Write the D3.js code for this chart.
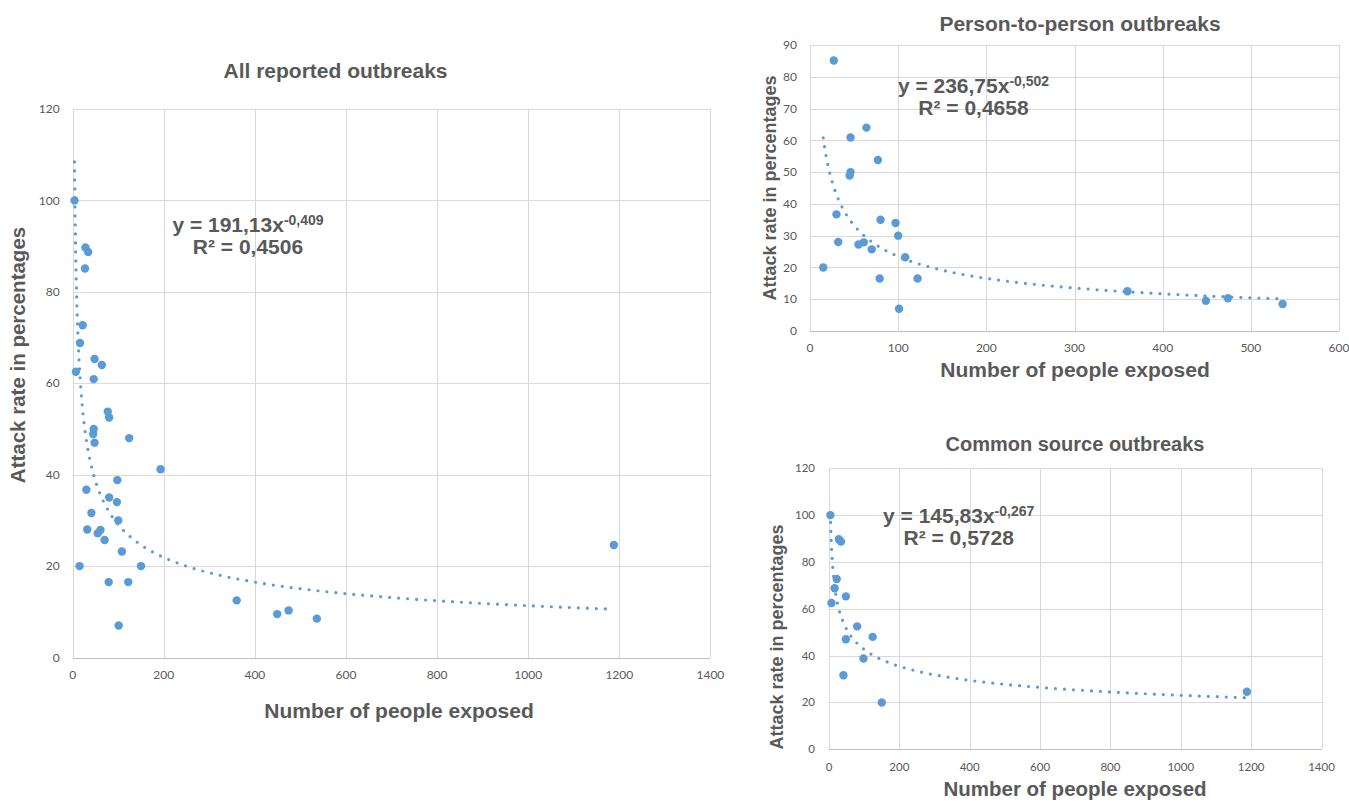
<!DOCTYPE html>
<html>
  <head>
    <meta charset="utf-8">
    <script src="https://d3js.org/d3.v7.min.js"></script>
    <style type="text/css">
      html, body {
        margin: 0;
        padding: 0;
        background: #ffffff;
      }
      svg {
        display: block;
      }
      .grid line {
        stroke: #d9d9d9;
        stroke-width: 1;
        shape-rendering: crispEdges;
      }
      .tick-label {
        font-family: Lato, "Open Sans", sans-serif;
        fill: #595959;
      }
      .bold {
        font-family: "Liberation Sans", Arial, sans-serif;
        font-weight: bold;
        fill: #595959;
      }
      .dot {
        fill: #5b9bd5;
      }
      .trend {
        fill: none;
        stroke: #5b9bd5;
        stroke-width: 3.2;
        stroke-linecap: round;
        stroke-dasharray: 0 9;
      }
    </style>
  </head>
  <body>
    <svg id="chart" width="1349" height="801"></svg>
    <script type="text/javascript">

    // person-to-person outbreaks
    var p2pExposed    = [27, 64, 46, 46, 45, 77, 30, 80, 97, 100, 32, 55, 61, 70, 108, 15, 79, 122, 101, 360, 449, 474, 536];
    var p2pAttackRate = [85.1, 64, 60.9, 50, 48.9, 53.8, 36.7, 35, 34, 30, 28, 27.2, 27.9, 25.7, 23.2, 20, 16.5, 16.5, 7, 12.5, 9.5, 10.3, 8.5];

    // common source outbreaks (bottom right panel)
    var commonExposed    = [4, 28, 34, 22, 16, 7, 48, 80, 48, 124, 98, 41, 150, 1188];
    var commonAttackRate = [100, 89.7, 88.7, 72.7, 68.8, 62.5, 65.3, 52.5, 47, 48, 38.8, 31.6, 20, 24.6];

    // outbreak only in the "all" panel
    var otherExposed    = [193];
    var otherAttackRate = [41.2];

    // power trendlines y = a * x^b, as printed on the chart
    var allTrend    = {a: 191.13, b: -0.409, eq: "y = 191,13x", exp: "-0,409", r2: "R² = 0,4506"};
    var p2pTrend    = {a: 236.75, b: -0.502, eq: "y = 236,75x", exp: "-0,502", r2: "R² = 0,4658"};
    var commonTrend = {a: 145.83, b: -0.267, eq: "y = 145,83x", exp: "-0,267", r2: "R² = 0,5728"};

    var yTicksAll    = [0, 20, 40, 60, 80, 100, 120];
    var xTicksAll    = [0, 200, 400, 600, 800, 1000, 1200, 1400];
    var yTicksP2p    = [0, 10, 20, 30, 40, 50, 60, 70, 80, 90];
    var xTicksP2p    = [0, 100, 200, 300, 400, 500, 600];

    function zip(xs, ys) {
        return xs.map(function (x, i) { return {x: x, y: ys[i]}; });
    }

    var allPoints = zip(p2pExposed.concat(commonExposed, otherExposed),
                        p2pAttackRate.concat(commonAttackRate, otherAttackRate));

    var svg = d3.select("#chart");

    function drawPanel(cfg) {
        var g = svg.append("g");
        var xScale = d3.scaleLinear().domain([0, cfg.xTicks[cfg.xTicks.length - 1]]).range(cfg.xRange);
        var yScale = d3.scaleLinear().domain([0, cfg.yTicks[cfg.yTicks.length - 1]]).range(cfg.yRange);

        // gridlines
        var grid = g.append("g").attr("class", "grid");
        grid.selectAll(".h").data(cfg.yTicks).enter().append("line")
            .attr("x1", cfg.xRange[0]).attr("x2", cfg.xRange[1])
            .attr("y1", function (d) { return Math.round(yScale(d)) + 0.5; })
            .attr("y2", function (d) { return Math.round(yScale(d)) + 0.5; })
            .style("stroke", function (d) { return d === 0 ? "#bfbfbf" : null; });
        grid.selectAll(".v").data(cfg.xTicks).enter().append("line")
            .attr("y1", cfg.yRange[0]).attr("y2", cfg.yRange[1])
            .attr("x1", function (d) { return Math.round(xScale(d)) + 0.5; })
            .attr("x2", function (d) { return Math.round(xScale(d)) + 0.5; });

        // tick labels
        g.selectAll(".ytl").data(cfg.yTicks).enter().append("text")
            .attr("class", "tick-label")
            .attr("x", cfg.xRange[0] - cfg.yLabelGap)
            .attr("y", function (d) { return yScale(d); })
            .attr("dy", "0.35em")
            .attr("text-anchor", "end")
            .style("font-size", cfg.tickSize + "px")
            .text(function (d) { return d; });
        g.selectAll(".xtl").data(cfg.xTicks).enter().append("text")
            .attr("class", "tick-label")
            .attr("x", function (d) { return xScale(d); })
            .attr("y", cfg.yRange[0] + cfg.xLabelGap)
            .attr("dy", "0.35em")
            .attr("text-anchor", "middle")
            .style("font-size", cfg.tickSize + "px")
            .text(function (d) { return d; });

        // trendline
        var xs = cfg.points.map(function (d) { return d.x; });
        var x0 = d3.min(xs), x1 = d3.max(xs);
        var trendPts = d3.range(0, 401).map(function (i) {
            var x = x0 * Math.pow(x1 / x0, i / 400);
            return [xScale(x), yScale(cfg.trend.a * Math.pow(x, cfg.trend.b))];
        });
        g.append("path")
            .attr("class", "trend")
            .attr("d", d3.line()(trendPts));

        // markers
        g.selectAll("circle").data(cfg.points).enter().append("circle")
            .attr("class", "dot")
            .attr("cx", function (d) { return xScale(d.x); })
            .attr("cy", function (d) { return yScale(d.y); })
            .attr("r", 4.2);

        // equation
        var eq = g.append("text").attr("class", "bold")
            .attr("x", cfg.eqPos[0]).attr("y", cfg.eqPos[1])
            .attr("text-anchor", "middle")
            .style("font-size", "21px");
        eq.append("tspan").text(cfg.trend.eq);
        eq.append("tspan").attr("dy", -7).style("font-size", "14px").text(cfg.trend.exp);
        g.append("text").attr("class", "bold")
            .attr("x", cfg.eqPos[0]).attr("y", cfg.eqPos[1] + 22.5)
            .attr("text-anchor", "middle")
            .style("font-size", "21px")
            .text(cfg.trend.r2);

        // titles
        g.append("text").attr("class", "bold")
            .attr("x", cfg.title[0]).attr("y", cfg.title[1])
            .attr("text-anchor", "middle")
            .style("font-size", cfg.title[2] + "px")
            .text(cfg.title[3]);
        g.append("text").attr("class", "bold")
            .attr("x", cfg.xTitle[0]).attr("y", cfg.xTitle[1])
            .attr("text-anchor", "middle")
            .style("font-size", cfg.xTitle[2] + "px")
            .text("Number of people exposed");
        g.append("text").attr("class", "bold")
            .attr("transform", "translate(" + cfg.yTitle[0] + "," + cfg.yTitle[1] + ") rotate(-90)")
            .attr("text-anchor", "middle")
            .style("font-size", cfg.yTitle[2] + "px")
            .text("Attack rate in percentages");
    }

    drawPanel({
        points: allPoints, trend: allTrend,
        xTicks: xTicksAll, yTicks: yTicksAll,
        xRange: [72.7, 710.4], yRange: [657.5, 109],
        tickSize: 12, yLabelGap: 13, xLabelGap: 17.5,
        eqPos: [248, 231.7],
        title: [335.5, 78.3, 21, "All reported outbreaks"],
        xTitle: [399, 718, 21],
        yTitle: [24.5, 355, 20.5]
    });

    drawPanel({
        points: zip(p2pExposed, p2pAttackRate), trend: p2pTrend,
        xTicks: xTicksP2p, yTicks: yTicksP2p,
        xRange: [810, 1339], yRange: [331, 45],
        tickSize: 12, yLabelGap: 13, xLabelGap: 17,
        eqPos: [973.5, 92.7],
        title: [1080, 30.5, 21, "Person-to-person outbreaks"],
        xTitle: [1075, 377, 21],
        yTitle: [776, 188, 18]
    });

    drawPanel({
        points: zip(commonExposed, commonAttackRate), trend: commonTrend,
        xTicks: xTicksAll, yTicks: yTicksAll,
        xRange: [829, 1321.5], yRange: [749.3, 468.3],
        tickSize: 11.5, yLabelGap: 14, xLabelGap: 17.5,
        eqPos: [958.7, 522.7],
        title: [1075, 451, 20, "Common source outbreaks"],
        xTitle: [1075, 795.5, 20.5],
        yTitle: [783, 637, 18]
    });

    </script>
  </body>
</html>
